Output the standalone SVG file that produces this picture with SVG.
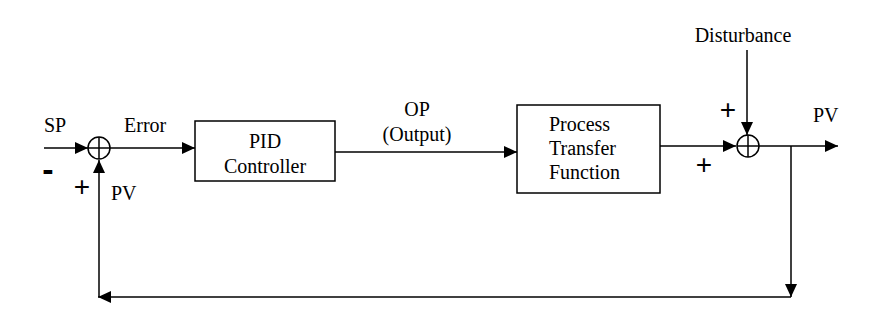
<svg xmlns="http://www.w3.org/2000/svg" width="873" height="330" viewBox="0 0 873 330">
<style>
.t{font-family:'Liberation Serif','Times New Roman',Times,serif;font-size:20px;fill:#000}
.s{font-family:'Liberation Sans',Arial,sans-serif;font-size:28px;fill:#000}
.ln{stroke:#000;stroke-width:1.5;fill:none}
.bx{stroke:#000;stroke-width:1.5;fill:#fff}
</style>
<defs>
<marker id="ah" markerUnits="userSpaceOnUse" markerWidth="14" markerHeight="12" refX="13" refY="6" orient="auto">
<path d="M0,0 L13,6 L0,12 Z" fill="#000"/>
</marker>
</defs>
<rect width="873" height="330" fill="#fff"/>
<g id="connectors">
<line class="ln" x1="44" y1="148" x2="88" y2="148" marker-end="url(#ah)"/>
<line class="ln" x1="110" y1="148" x2="195" y2="148" marker-end="url(#ah)"/>
<line class="ln" x1="335" y1="152" x2="517" y2="152" marker-end="url(#ah)"/>
<line class="ln" x1="660" y1="146" x2="736" y2="146" marker-end="url(#ah)"/>
<line class="ln" x1="747" y1="50" x2="747" y2="135" marker-end="url(#ah)"/>
<line class="ln" x1="758" y1="146" x2="838" y2="146" marker-end="url(#ah)"/>
<line class="ln" x1="791" y1="146" x2="791" y2="297" marker-end="url(#ah)"/>
<line class="ln" x1="791" y1="297" x2="98" y2="297" marker-end="url(#ah)"/>
<line class="ln" x1="99" y1="297" x2="99" y2="160" marker-end="url(#ah)"/>
</g>
<g id="sum1">
<circle class="bx" cx="99" cy="148" r="11"/>
<line class="ln" x1="88" y1="148" x2="110" y2="148"/>
<line class="ln" x1="99" y1="137" x2="99" y2="159"/>
</g>
<g id="pid">
<rect class="bx" x="195" y="121" width="140" height="60"/>
<text class="t" font-family="Liberation Serif, serif" x="265" y="148" text-anchor="middle">PID</text>
<text class="t" font-family="Liberation Serif, serif" x="265" y="173" text-anchor="middle">Controller</text>
</g>
<g id="process">
<rect class="bx" x="517" y="105" width="143" height="88"/>
<text class="t" font-family="Liberation Serif, serif" x="549" y="131">Process</text>
<text class="t" font-family="Liberation Serif, serif" x="549" y="155">Transfer</text>
<text class="t" font-family="Liberation Serif, serif" x="549" y="179">Function</text>
</g>
<g id="sum2">
<circle class="bx" cx="748" cy="146" r="11"/>
<line class="ln" x1="737" y1="146" x2="759" y2="146"/>
<line class="ln" x1="748" y1="135" x2="748" y2="157"/>
</g>
<g id="labels">
<text class="t" font-family="Liberation Serif, serif" x="44" y="132">SP</text>
<text class="t" font-family="Liberation Serif, serif" x="124" y="132">Error</text>
<text class="t" font-family="Liberation Serif, serif" x="111" y="200">PV</text>
<text class="t" font-family="Liberation Serif, serif" x="417" y="116" text-anchor="middle">OP</text>
<text class="t" font-family="Liberation Serif, serif" x="417" y="141" text-anchor="middle">(Output)</text>
<text class="t" font-family="Liberation Serif, serif" x="743" y="42" text-anchor="middle">Disturbance</text>
<text class="t" font-family="Liberation Serif, serif" x="813" y="122">PV</text>
<text class="s" x="48" y="181" text-anchor="middle" style="font-size:34px;font-weight:bold">-</text>
<text class="s" x="82" y="196" text-anchor="middle">+</text>
<text class="s" x="728" y="119" text-anchor="middle">+</text>
<text class="s" x="704" y="174" text-anchor="middle">+</text>
</g>
</svg>
